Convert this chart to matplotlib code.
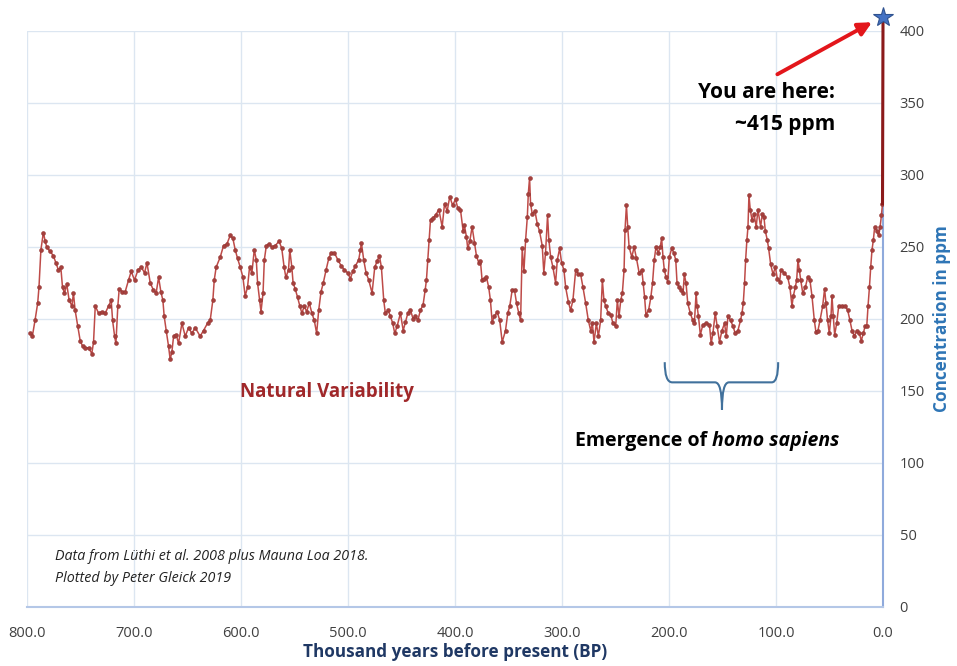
import numpy as np
import matplotlib
matplotlib.use("Agg")
import matplotlib.pyplot as plt
from matplotlib.path import Path
from matplotlib.patches import PathPatch

plt.rcParams['font.family'] = ['Open Sans', 'DejaVu Sans']

# thousand years before present, CO2 in ppm
age = [797, 795, 792.5, 790, 788.8, 787, 784.7, 783, 781.6, 778.5, 775.4, 773, 770.6, 768.4, 766.8, 765, 762.8,
       760.6, 758, 756.6, 755, 752.5, 750.3, 748, 745.6, 742.5, 739.4, 737.8, 736.2, 733.1, 730, 726.9, 723.8,
       721.3, 720, 718.1, 716.9, 715.1, 713.8, 711.3, 708.2, 705.1, 702.6, 699.5, 696.3, 693.2, 690.1, 687.9, 684.8,
       681.8, 679.3, 677, 674.9, 673, 671.8, 669.9, 667.7, 666.2, 664.6, 663, 660.5, 658.4, 655.2, 652.1, 649,
       645.9, 642.8, 638.2, 635, 631.3, 628.8, 626.3, 625, 623.2, 619.4, 616.3, 613.2, 610.1, 607.6, 605.4, 603.2,
       600.7, 598.2, 596.1, 593.9, 592, 589.8, 587.6, 585.7, 584.5, 582.6, 581.3, 579.4, 578.2, 576.3, 574.2, 571,
       567.9, 564.4, 561.9, 559.7, 558.1, 555.6, 554.4, 552.5, 551.3, 549.4, 547.1, 545, 543.1, 540.9, 538.7,
       536.2, 533.7, 531.5, 529.3, 527.4, 525.2, 523.1, 520.5, 518, 515.8, 512.7, 509.5, 506.4, 503.3, 500.2,
       497.8, 495.6, 493, 490, 488.4, 487.5, 485.3, 483.1, 480.6, 477.5, 475, 472.8, 470.7, 468.8, 466.6, 465.1,
       462.5, 460.4, 458.2, 456.3, 454.1, 451, 448.4, 446.3, 444.1, 441.6, 439.1, 437, 434.8, 432.3, 429.8,
       427.9, 426.7, 425.4, 424.1, 422.9, 421, 418.2, 415.1, 412, 409.8, 407.3, 404.9, 402.3, 399.5, 397.4,
       394.9, 392.4, 391.2, 389.3, 388.1, 386.2, 384, 381.8, 380, 377.8, 376.2, 374.7, 372.5, 370.6, 368.5,
       366.9, 365.3, 363.1, 360.6, 358.2, 355.9, 352.8, 350.7, 348.8, 346.6, 344.4, 342.5, 340.4, 338.7, 337.2,
       335.6, 334, 332.4, 331.5, 330.3, 329.4, 327.8, 325.3, 323.1, 321, 318.5, 317, 315.4, 313.5, 312.3, 310.6,
       308.5, 306, 304.4, 302.2, 300.4, 298.2, 296.6, 294.1, 292, 289.8, 287.2, 284.7, 282.6, 280.4, 277.9,
       275.4, 273.2, 271.6, 270.1, 267.9, 266, 263.9, 262.3, 260.8, 259.2, 256.7, 254.5, 252.4, 249.8, 248.3,
       246.7, 245.1, 243.6, 242, 241.1, 239.8, 238.6, 237.3, 234.8, 232.6, 230.4, 227.9, 225.4, 224.2, 222.8,
       221.6, 219.1, 217, 215.4, 213.8, 212.2, 210.1, 208.2, 206.9, 205.6, 204.4, 202.8, 201.2, 199.7, 197.5,
       195.6, 193.7, 192.5, 190.6, 188.8, 186.9, 185.7, 184.1, 182.5, 180.1, 177.8, 176.3, 174.7, 173.8, 172.5,
       170.7, 168.4, 165.3, 162.2, 160.6, 159, 156.8, 155, 152.8, 150.5, 148.1, 146.5, 144.9, 142.5, 140.2,
       138.1, 135.6, 133.2, 131.8, 130.6, 129.4, 128.4, 127.2, 126.2, 125.3, 124.1, 122.5, 120.6, 118.5, 116.9,
       114.4, 112.8, 111.3, 110, 108.2, 106.9, 105, 102.8, 100.6, 98.8, 96.6, 95.4, 92.3, 89.1, 87, 85.1, 83.8,
       82, 80.7, 79.5, 78.2, 76.9, 75, 72.6, 70.4, 68.3, 66.4, 64.2, 62.7, 60.8, 58.9, 56.4, 54.6, 53.3, 51.8,
       50.2, 48.6, 47.7, 46.5, 45.2, 43.3, 41.4, 38.4, 35.2, 33, 30.9, 29, 26.8, 24.6, 22.1, 20.3, 18.4, 16.8,
       15.2, 14, 12.7, 11.5, 10.3, 9, 7.8, 5.9, 4, 2.7, 1.5, 0.5]
co2 = [190, 188, 199, 211, 222, 248, 260, 254, 250, 247, 244, 239, 234, 236, 222, 218, 224,
       213, 209, 218, 206, 195, 185, 181, 180, 180, 176, 184, 209, 204, 205, 204, 209,
       213, 199, 188, 183, 209, 221, 219, 219, 227, 233, 227, 234, 236, 232, 239, 225,
       220, 218, 229, 219, 213, 202, 192, 181, 172, 177, 188, 189, 183, 197, 188, 194,
       190, 194, 188, 192, 197, 199, 213, 227, 236, 243, 251, 252, 258, 256, 248, 242,
       236, 229, 216, 222, 236, 232, 248, 241, 225, 213, 205, 218, 241, 251, 252, 250,
       251, 254, 249, 236, 229, 234, 248, 236, 225, 221, 215, 209, 204, 209, 205,
       211, 204, 199, 190, 206, 219, 225, 234, 242, 246, 246, 241, 237, 234, 232,
       228, 233, 237, 241, 248, 253, 241, 232, 227, 218, 236, 240, 244, 236, 213, 204,
       206, 202, 197, 190, 195, 204, 192, 198, 204, 206, 200, 202, 199, 206, 210,
       220, 227, 241, 255, 269, 270, 272, 276, 264, 280, 275, 285, 279, 283, 277,
       276, 261, 265, 257, 249, 254, 264, 253, 244, 239, 240, 227, 228, 229, 222,
       213, 198, 202, 205, 199, 184, 192, 204, 209, 220, 220, 211, 204, 199, 249,
       233, 255, 271, 287, 298, 280, 273, 275, 266, 261, 251, 232, 246, 272, 255, 243,
       236, 225, 241, 249, 239, 234, 222, 212, 206, 213, 234, 231, 231, 222, 211,
       199, 192, 197, 184, 197, 188, 199, 227, 213, 209, 204, 203, 197, 195, 213,
       202, 213, 218, 234, 262, 279, 264, 250, 243, 250, 242, 232, 234, 225, 215,
       203, 206, 215, 225, 241, 250, 246, 250, 256, 243, 234, 229, 226, 243, 249,
       246, 241, 225, 222, 220, 218, 231, 225, 211, 204, 199, 197, 218, 209, 202,
       189, 196, 197, 196, 183, 190, 204, 195, 184, 192, 197, 188, 202, 199, 195,
       190, 192, 199, 204, 211, 225, 241, 255, 264, 286, 276, 269, 273, 264, 276,
       264, 273, 271, 261, 255, 249, 238, 231, 236, 228, 226, 234, 232, 229, 222, 209, 216,
       222, 227, 241, 234, 227, 218, 222, 229, 227, 216, 199, 191, 192, 199, 209, 221, 211, 199,
       190, 202, 216, 202, 189, 197, 209, 209, 209, 206, 199, 192, 188, 192, 190, 185, 190, 195,
       195, 209, 222, 236, 248, 255, 264, 261, 258, 264, 272, 280]

# modern jump to Mauna Loa value
modern_age = [0.5, 0.0]
modern_co2 = [280, 410]

x_ticks = [800, 700, 600, 500, 400, 300, 200, 100, 0]
y_ticks = [0, 50, 100, 150, 200, 250, 300, 350, 400]

fig = plt.figure(figsize=(9.57, 6.66), dpi=100)
ax = fig.add_axes([0.0282, 0.0886, 0.8945, 0.8649])

ax.plot(age, co2, color='#BE4B48', lw=1.1, marker='o', ms=2.8,
        mfc='#A5403D', mec='#943634', mew=0.4, zorder=3)
ax.plot(modern_age, modern_co2, color='#8B1A1A', lw=2.2, zorder=4, clip_on=False)
ax.plot([0], [410], marker='*', ms=15, color='#4472C4', mec='#2F528F', mew=0.8,
        zorder=6, clip_on=False)

ax.set_xlim(800, 0)
ax.set_ylim(0, 400)
ax.set_xticks(x_ticks)
ax.set_xticklabels(['%.1f' % v for v in x_ticks])
ax.set_yticks(y_ticks)
ax.yaxis.tick_right()
ax.yaxis.set_label_position('right')
ax.tick_params(axis='both', length=0, labelsize=10.5, colors='#404040')
ax.tick_params(axis='x', pad=14)
ax.tick_params(axis='y', pad=12)

ax.grid(True, color='#DCE6F1', lw=1.0)
ax.set_axisbelow(True)
for s in ['top', 'left']:
    ax.spines[s].set_visible(False)
ax.spines['bottom'].set_color('#B4C7E7')
ax.spines['bottom'].set_linewidth(1.5)
ax.spines['right'].set_color('#8FAADC')
ax.spines['right'].set_linewidth(1.5)

ax.set_xlabel('Thousand years before present (BP)', fontsize=12.3, fontweight='bold',
              color='#1F3864', labelpad=1)
ax.set_ylabel('Concentration in ppm', fontsize=12.3, fontweight='bold', color='#2E75B6',
              labelpad=6)

ax.text(520, 149, 'Natural Variability', fontsize=13.5, fontweight='bold',
        color='#A0282A', ha='center', va='center')
ax.text(45, 357, 'You are here:', fontsize=15, fontweight='bold', color='black',
        ha='right', va='center')
ax.text(45, 335, '~415 ppm', fontsize=15, fontweight='bold', color='black',
        ha='right', va='center')
t1 = ax.text(288, 115, 'Emergence of ', fontsize=14, fontweight='bold', ha='left', va='center')
ax.annotate('homo sapiens', xy=(1, 0.5), xycoords=t1, fontsize=14, fontweight='bold',
            style='italic', ha='left', va='center')
ax.text(774, 35, 'Data from Lüthi et al. 2008 plus Mauna Loa 2018.', fontsize=10.3,
        style='italic', color='#222222', ha='left', va='center')
ax.text(774, 19.5, 'Plotted by Peter Gleick 2019', fontsize=10.3, style='italic',
        color='#222222', ha='left', va='center')

# curly brace over the emergence of homo sapiens
verts = [(204, 170), (204, 156), (197, 156), (157, 156), (150.5, 156), (150.5, 137),
         (150.5, 156), (144, 156), (104, 156), (98, 156), (98, 170)]
codes = [Path.MOVETO, Path.CURVE3, Path.CURVE3, Path.LINETO, Path.CURVE3, Path.CURVE3,
         Path.CURVE3, Path.CURVE3, Path.LINETO, Path.CURVE3, Path.CURVE3]
ax.add_patch(PathPatch(Path(verts, codes), fc='none', ec='#41719C', lw=1.5, zorder=4))

ax.annotate('', xy=(8, 407), xytext=(101, 369),
            arrowprops=dict(arrowstyle='-|>,head_length=0.8,head_width=0.4',
                            color='#E3161B', lw=2.8), annotation_clip=False, zorder=5)

fig.savefig('out.png', dpi=100)
